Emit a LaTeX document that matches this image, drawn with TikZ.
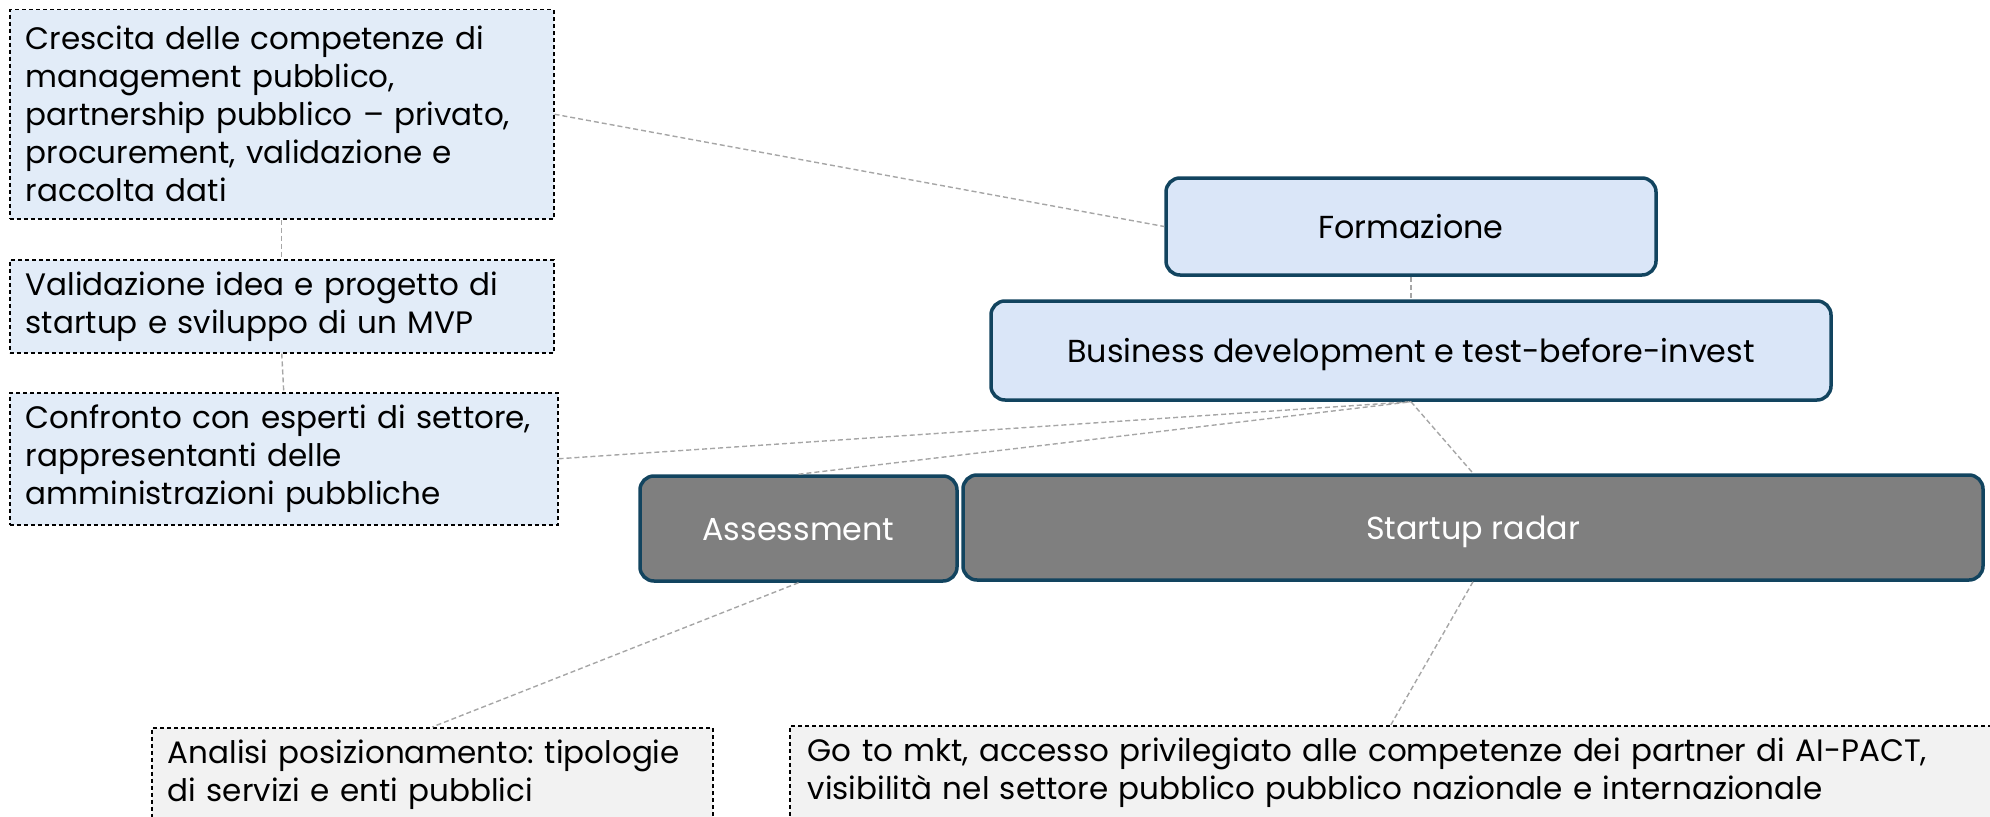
\documentclass[tikz,border=0pt]{standalone}
\usepackage{fontspec}
\setmainfont{Poppins}
\frenchspacing
\definecolor{leftfill}{HTML}{E2ECF8}
\definecolor{bluefill}{HTML}{DAE6F8}
\definecolor{tealline}{HTML}{12445F}
\definecolor{grayfill}{HTML}{7F7F7F}
\definecolor{paleFill}{HTML}{F2F2F2}
\definecolor{linkgray}{HTML}{A6A6A6}
\begin{document}
\begin{tikzpicture}[x=1bp,y=-1bp,
  txt/.style={font=\fontsize{31bp}{38bp}\selectfont},
  notebox/.style={txt, draw=black, dash pattern=on 4bp off 3bp, line width=1.5bp,
    anchor=north west, align=left, inner xsep=16bp, inner ysep=0bp},
  leftbox/.style={notebox, fill=leftfill},
  lowbox/.style={notebox, fill=paleFill},
  rbox/.style={font=\fontsize{31.8bp}{38bp}\selectfont, draw=tealline, line width=3.5bp,
    rounded corners=14bp, inner sep=0bp, text height=24bp, text depth=1bp},
  bluebox/.style={rbox, fill=bluefill, text=black},
  graybox/.style={rbox, fill=grayfill, text=white},
  link/.style={draw=linkgray, line width=1.4bp, dash pattern=on 5bp off 3bp}
]
\useasboundingbox (0,0) rectangle (1990,817);

\node[leftbox, text width=512bp, minimum height=209bp] (b1) at (9,9)
  {Crescita delle competenze di\\management pubblico,\\partnership pubblico – privato,\\procurement, validazione e\\raccolta dati};
\node[leftbox, text width=512bp, minimum height=93bp] (b2) at (9,259)
  {Validazione idea e progetto di\\startup e sviluppo di un MVP};
\node[leftbox, text width=516bp, minimum height=132bp] (b3) at (9,392)
  {Confronto con esperti di settore,\\rappresentanti delle\\amministrazioni pubbliche};

\node[bluebox, minimum width=490bp, minimum height=97bp] (form) at (1411,226.5) {Formazione};
\node[bluebox, minimum width=840bp, minimum height=99bp] (biz) at (1411,350.5) {Business development e test-before-invest};
\node[graybox, minimum width=317bp, minimum height=105bp] (ass) at (798.5,528.5) {Assessment};
\node[graybox, minimum width=1020bp, minimum height=105bp] (radar) at (1473,527.5) {Startup radar};

\node[lowbox, text width=529bp, minimum height=94bp] (ana) at (151,727)
  {Analisi posizionamento: tipologie\\di servizi e enti pubblici};
\node[lowbox, inner xsep=18bp, text width=1166bp, minimum height=93bp] (go) at (789,725)
  {Go to mkt, accesso privilegiato alle competenze dei partner di AI-PACT,\\visibilità nel settore pubblico pubblico nazionale e internazionale};

\draw[link] (b1.east) -- (form.west);
\draw[link] (b1.south) -- (b2.north);
\draw[link] (b2.south) -- (b3.north);
\draw[link] (b3.east) -- (biz.south);
\draw[link] (ass.north) -- (biz.south);
\draw[link] (form.south) -- (biz.north);
\draw[link] (biz.south) -- (radar.north);
\draw[link] (ass.south) -- (ana.north);
\draw[link] (radar.south) -- (go.north);
\end{tikzpicture}
\end{document}
